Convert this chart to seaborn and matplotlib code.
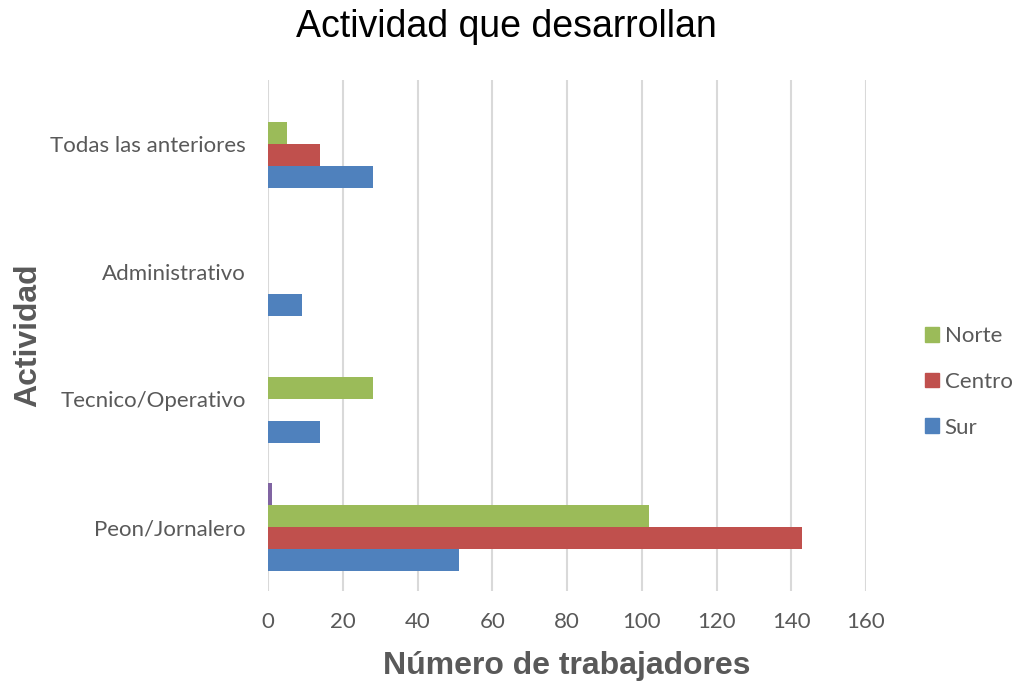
#!/usr/bin/env python3
"""Barras horizontales: actividad que desarrollan por zona
"""

import pandas as pd
import matplotlib
matplotlib.use("Agg")
import matplotlib.pyplot as plt
from matplotlib.patches import Patch
import seaborn as sns

actividades = ["Todas las anteriores", "Administrativo", "Tecnico/Operativo", "Peon/Jornalero"]
sur = [28, 9, 14, 51]
centro = [14, 0, 0, 143]
norte = [5, 0, 28, 102]
otro = [0, 0, 0, 1]  # serie sin nombre (morada)

series = ["Otro", "Norte", "Centro", "Sur"]
colores = {"Otro": "#8064A2", "Norte": "#9BBB59", "Centro": "#C0504D", "Sur": "#4F81BD"}


def main():
    rows = []
    for nombre, vals in zip(["Sur", "Centro", "Norte", "Otro"], [sur, centro, norte, otro]):
        for act, v in zip(actividades, vals):
            rows.append({"Actividad": act, "Zona": nombre, "Valor": v})
    df = pd.DataFrame(rows)

    sns.set_style("white")
    plt.rcParams["font.family"] = ["Lato", "DejaVu Sans"]

    fig, ax = plt.subplots(figsize=(10.21, 6.81), dpi=100)
    fig.subplots_adjust(left=268 / 1021, right=866 / 1021, top=1 - 80 / 681, bottom=1 - 591 / 681)

    sns.barplot(data=df, x="Valor", y="Actividad", hue="Zona", order=actividades,
                hue_order=series, palette=colores, saturation=1, orient="h", width=0.69,
                gap=0, linewidth=0, ax=ax, legend=False)

    ax.set_xlim(0, 160)
    ax.set_xticks(range(0, 161, 20))
    ax.grid(axis="x", color="#D9D9D9", linewidth=1.5)
    ax.set_axisbelow(True)
    for s in ax.spines.values():
        s.set_visible(False)
    ax.tick_params(axis="both", length=0, labelsize=16, labelcolor="#595959")
    ax.tick_params(axis="x", pad=15)
    ax.tick_params(axis="y", pad=16)

    ax.set_xlabel("Número de trabajadores", fontsize=23, fontweight="bold", color="#595959",
                  family=["Liberation Sans", "DejaVu Sans"], labelpad=14)
    ax.set_ylabel("Actividad", fontsize=23, fontweight="bold", color="#595959",
                  family=["Liberation Sans", "DejaVu Sans"])
    ax.yaxis.set_label_coords((28 - 268) / 598, 0.5)
    ax.yaxis.label.set_va("center")
    fig.text(506 / 1021, 1 - 27 / 681, "Actividad que desarrollan", ha="center", va="center",
             fontsize=27, color="#000000", family=["Liberation Sans", "DejaVu Sans"])

    handles = [Patch(color=colores[z], label=z) for z in ["Norte", "Centro", "Sur"]]
    fig.legend(handles=handles, loc="center left", bbox_to_anchor=(905 / 1021, 1 - 382 / 681),
               frameon=False, fontsize=16, labelcolor="#595959", handlelength=0.63,
               handleheight=0.63, handletextpad=0.25, labelspacing=1.15)

    fig.savefig("out.png", dpi=100)


if __name__ == "__main__":
    main()
